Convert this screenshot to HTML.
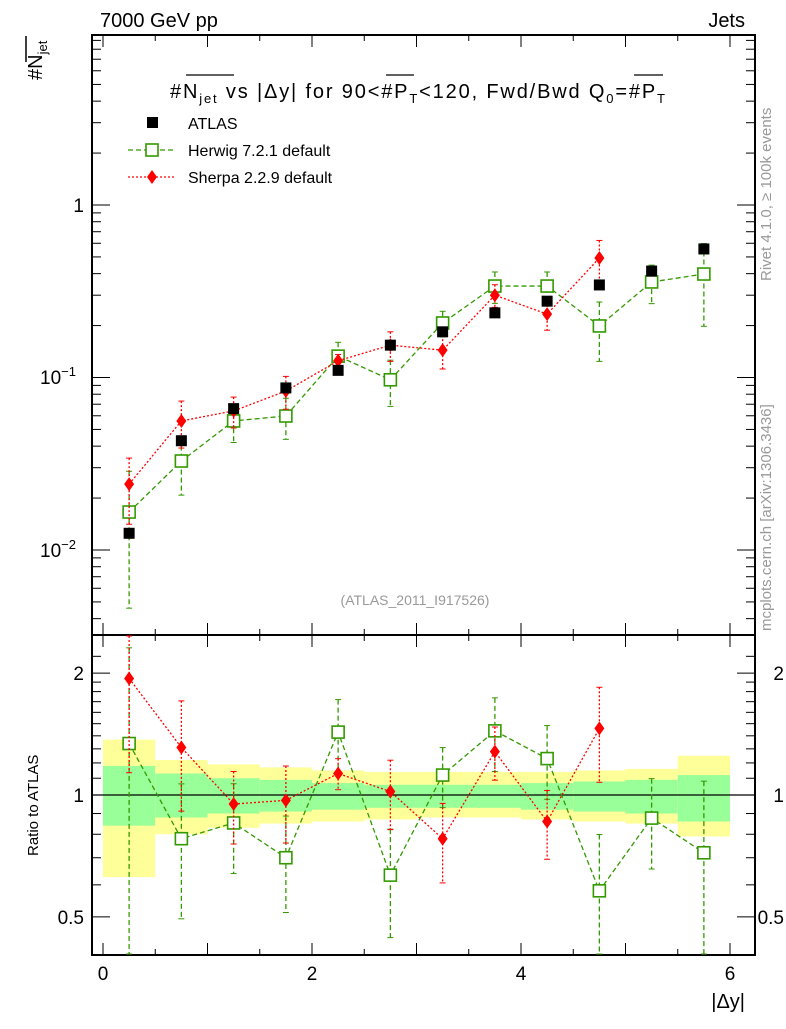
<!DOCTYPE html>
<html><head><meta charset="utf-8"><style>
body{margin:0;background:#fff;width:786px;height:1024px;overflow:hidden}
svg{font-family:"Liberation Sans",sans-serif}
</style></head><body>
<svg id="c" width="786" height="1024" xmlns="http://www.w3.org/2000/svg"></svg>
<script>
const xCenters=[0.25,0.75,1.25,1.75,2.25,2.75,3.25,3.75,4.25,4.75,5.25,5.75];
const atlasVals=[0.0125,0.043,0.066,0.087,0.11,0.154,0.184,0.237,0.277,0.344,0.414,0.556];
const herwigVals=[0.0166,0.0328,0.056,0.0598,0.133,0.097,0.207,0.339,0.339,0.199,0.358,0.398];
const herwigErr=[0.012,0.012,0.014,0.016,0.027,0.029,0.035,0.07,0.07,0.075,0.09,0.2];
const sherpaVals=[0.0241,0.056,0.064,0.0835,0.125,0.154,0.144,0.30,0.233,0.493];
const sherpaErr=[0.01,0.017,0.013,0.018,0.011,0.03,0.032,0.045,0.045,0.13];
const herwigRatio=[1.34,0.78,0.853,0.70,1.43,0.634,1.12,1.44,1.23,0.58,0.877,0.72];
const sherpaRatio=[1.94,1.31,0.95,0.97,1.13,1.02,0.78,1.28,0.86,1.46];
const yellowHi=[1.37,1.22,1.19,1.17,1.15,1.14,1.14,1.14,1.14,1.15,1.16,1.25];
const yellowLo=[0.627,0.8,0.83,0.85,0.86,0.87,0.88,0.88,0.87,0.86,0.85,0.79];
const greenHi=[1.18,1.13,1.1,1.09,1.07,1.06,1.06,1.06,1.07,1.08,1.09,1.12];
const greenLo=[0.84,0.88,0.9,0.91,0.92,0.93,0.93,0.93,0.92,0.91,0.9,0.86];

const svg=document.getElementById('c');
const NS='http://www.w3.org/2000/svg';
function el(t,a,p){const e=document.createElementNS(NS,t);for(const k in a)e.setAttribute(k,a[k]);(p||svg).appendChild(e);return e;}
const X=v=>103+v*104.5;
const Y=v=>205-Math.log10(v)*172.5;
const R=v=>795-Math.log10(v)*405;
const clipY=(y,a,b)=>Math.max(a,Math.min(b,y));

for(let i=0;i<12;i++){
 const x0=X(xCenters[i]-0.25),w=X(0.5)-X(0);
 let r=el('rect',{x:x0,y:R(yellowHi[i]),width:w,height:R(yellowLo[i])-R(yellowHi[i]),fill:'#ffff99'});
 
 r=el('rect',{x:x0,y:R(greenHi[i]),width:w,height:R(greenLo[i])-R(greenHi[i]),fill:'#99ff99'});
 
}
el('line',{x1:92,x2:755,y1:R(1),y2:R(1),stroke:'#000','stroke-width':1.2});

let f=el('rect',{x:92,y:35,width:663,height:600,fill:'none',stroke:'#000','stroke-width':2});

f=el('rect',{x:92,y:635,width:663,height:320,fill:'none',stroke:'#000','stroke-width':2});


for(let v=0;v<=6.01;v+=0.5){
 const x=X(v),L=(Math.abs(v-Math.round(v))<0.01)?12:6;
 el('line',{x1:x,x2:x,y1:35,y2:35+L,stroke:'#000'});
 el('line',{x1:x,x2:x,y1:635,y2:635-L,stroke:'#000'});
 el('line',{x1:x,x2:x,y1:635,y2:635+L,stroke:'#000'});
 el('line',{x1:x,x2:x,y1:955,y2:955-L,stroke:'#000'});
}
for(const v of [0,2,4,6]){const t=el('text',{x:X(v),y:980,'font-size':19,'text-anchor':'middle'});t.textContent=v;}
let t=el('text',{x:745,y:1008,'font-size':20,'text-anchor':'end'});t.textContent='|Δy|';

for(let d=-3;d<=0;d++)for(let m=1;m<10;m++){
 const v=m*Math.pow(10,d),y=Y(v);if(y<35||y>635)continue;
 const L=m==1?18:9;
 el('line',{x1:92,x2:92+L,y1:y,y2:y,stroke:'#000'});
 el('line',{x1:755,x2:755-L,y1:y,y2:y,stroke:'#000'});
}
t=el('text',{x:84,y:212,'font-size':19,'text-anchor':'end'});t.textContent='1';
t=el('text',{x:76,y:384,'font-size':19,'text-anchor':'end'});t.innerHTML='10<tspan dy="-8" font-size="13">−1</tspan>';
t=el('text',{x:76,y:557,'font-size':19,'text-anchor':'end'});t.innerHTML='10<tspan dy="-8" font-size="13">−2</tspan>';
t=el('text',{transform:'translate(42,80) rotate(-90)','font-size':20,'text-anchor':'start'});t.innerHTML='#N<tspan dy="5" font-size="13">jet</tspan>';

el('line',{x1:26,x2:26,y1:36,y2:62,stroke:'#000','stroke-width':1.5});

for(const v of [0.4,0.5,0.6,0.7,0.8,0.9,1,1.1,1.2,1.3,1.4,1.5,1.6,1.7,1.8,1.9,2,2.2]){
 const y=R(v);if(y<635||y>955)continue;
 const L=(v==0.5||v==1||v==2)?18:9;
 el('line',{x1:92,x2:92+L,y1:y,y2:y,stroke:'#000'});
 el('line',{x1:755,x2:755-L,y1:y,y2:y,stroke:'#000'});
}
for(const [v,s] of [[2,'2'],[1,'1'],[0.5,'0.5']]){
 t=el('text',{x:84,y:R(v)+7,'font-size':19,'text-anchor':'end'});t.textContent=s;
 t=el('text',{x:784,y:R(v)+7,'font-size':19,'text-anchor':'end'});t.textContent=s;
}
t=el('text',{transform:'translate(38,856) rotate(-90)','font-size':15});t.textContent='Ratio to ATLAS';


function series(vals,errs,mapY,top,bot,color,dash,marker,name){
 const g=el('g',{});
 let pts=vals.map((v,i)=>X(xCenters[i])+','+mapY(v)).join(' ');
 el('polyline',{points:pts,fill:'none',stroke:color,'stroke-width':1.3,'stroke-dasharray':dash},g);
 vals.forEach((v,i)=>{
  const x=X(xCenters[i]);
  if(errs){
   const hi=clipY(mapY(v+errs[i]),top,bot),lo=clipY(mapY(Math.max(v-errs[i],1e-9)),top,bot);
   el('line',{x1:x,x2:x,y1:hi,y2:lo,stroke:color,'stroke-width':1.3,'stroke-dasharray':dash},g);
   el('line',{x1:x-3,x2:x+3,y1:hi,y2:hi,stroke:color},g);el('line',{x1:x-3,x2:x+3,y1:lo,y2:lo,stroke:color},g);
  }
  const y=mapY(v);
  if(marker=='sq'){const m=el('rect',{x:x-6,y:y-6,width:12,height:12,fill:'#fff',stroke:color,'stroke-width':1.6},g);}
  else{const m=el('polygon',{points:`${x},${y-7} ${x+5},${y} ${x},${y+7} ${x-5},${y}`,fill:color},g);}
 });
}
series(herwigVals,herwigErr,Y,35,635,'#339900','5,3','sq','herwig-series');
series(sherpaVals,sherpaErr,Y,35,635,'#ff0000','2,2','dia','sherpa-series');
const ag=el('g',{});
atlasVals.forEach((v,i)=>{const m=el('rect',{x:X(xCenters[i])-5.5,y:Y(v)-5.5,width:11,height:11,fill:'#000'},ag);});
const hrE=herwigRatio.map((r,i)=>r*herwigErr[i]/herwigVals[i]);
const srE=sherpaRatio.map((r,i)=>r*sherpaErr[i]/sherpaVals[i]);
series(herwigRatio,hrE,R,636,954,'#339900','5,3','sq','herwig-ratio');
series(sherpaRatio,srE,R,636,954,'#ff0000','2,2','dia','sherpa-ratio');

t=el('text',{x:100,y:27,'font-size':20});t.textContent='7000 GeV pp';
t=el('text',{x:745,y:27,'font-size':20,'text-anchor':'end'});t.textContent='Jets';
t=el('text',{x:170,y:98,'font-size':20,textLength:495,lengthAdjust:'spacing'});
t.innerHTML='#N<tspan dy="5" font-size="13">jet</tspan><tspan dy="-5"> vs |Δy| for 90&lt;#P</tspan><tspan dy="5" font-size="13">T</tspan><tspan dy="-5">&lt;120, Fwd/Bwd Q</tspan><tspan dy="5" font-size="13">0</tspan><tspan dy="-5">=#P</tspan><tspan dy="5" font-size="13">T</tspan>';

el('line',{x1:186,x2:234,y1:75,y2:75,stroke:'#000','stroke-width':1.3});
el('line',{x1:386,x2:414,y1:75,y2:75,stroke:'#000','stroke-width':1.3});
el('line',{x1:634,x2:663,y1:75,y2:75,stroke:'#000','stroke-width':1.3});
t=el('text',{x:415,y:605,'font-size':14,fill:'#999','text-anchor':'middle'});t.textContent='(ATLAS_2011_I917526)';
t=el('text',{transform:'translate(771,281) rotate(-90)','font-size':15,fill:'#999'});t.textContent='Rivet 4.1.0, ≥ 100k events';
t=el('text',{transform:'translate(771,631) rotate(-90)','font-size':15,fill:'#999'});t.textContent='mcplots.cern.ch [arXiv:1306.3436]';
const lg=el('g',{});
el('rect',{x:147,y:117,width:11,height:11,fill:'#000'},lg);
t=el('text',{x:188,y:129,'font-size':16},lg);t.textContent='ATLAS';
el('line',{x1:128,x2:176,y1:150,y2:150,stroke:'#339900','stroke-width':1.3,'stroke-dasharray':'5,3'},lg);
el('rect',{x:146,y:144,width:12,height:12,fill:'#fff',stroke:'#339900','stroke-width':1.6},lg);
t=el('text',{x:188,y:156,'font-size':16},lg);t.textContent='Herwig 7.2.1 default';
el('line',{x1:128,x2:176,y1:177,y2:177,stroke:'#ff0000','stroke-width':1.3,'stroke-dasharray':'2,2'},lg);
el('polygon',{points:'152,170 157,177 152,184 147,177',fill:'#ff0000'},lg);
t=el('text',{x:188,y:183,'font-size':16},lg);t.textContent='Sherpa 2.2.9 default';
</script>
</body></html>
